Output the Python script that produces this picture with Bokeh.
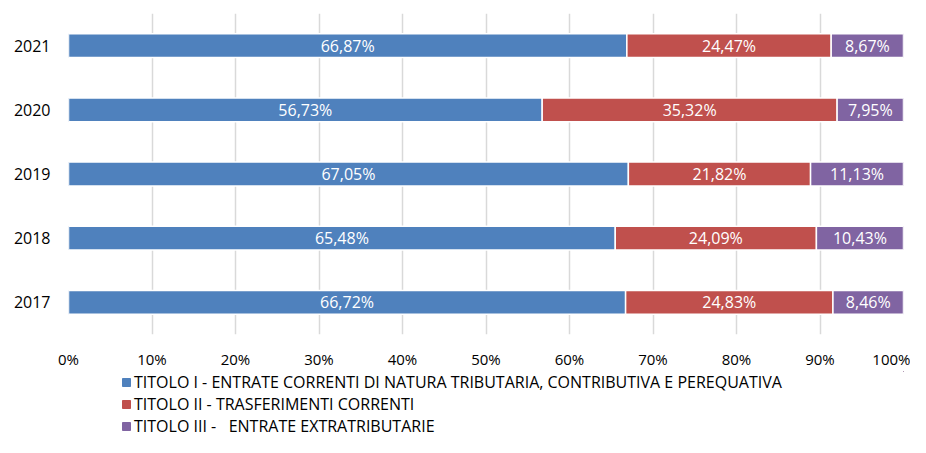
from bokeh.plotting import figure
from bokeh.layouts import column
from bokeh.models import (FactorRange, Range1d, FixedTicker, PrintfTickFormatter,
                          ColumnDataSource, Legend, LegendItem)
from bokeh.core.properties import value
from bokeh.embed import file_html
from bokeh.resources import INLINE

years = ["2017", "2018", "2019", "2020", "2021"]
titolo1 = [66.72, 65.48, 67.05, 56.73, 66.87]
titolo2 = [24.83, 24.09, 21.82, 35.32, 24.47]
titolo3 = [8.46, 10.43, 11.13, 7.95, 8.67]
series_names = [
    "TITOLO I - ENTRATE CORRENTI DI NATURA TRIBUTARIA, CONTRIBUTIVA E PEREQUATIVA",
    "TITOLO II - TRASFERIMENTI CORRENTI",
    "TITOLO III -   ENTRATE EXTRATRIBUTARIE",
]
colors = ["#4F81BD", "#C0504D", "#8064A2"]
x_ticks = [0, 10, 20, 30, 40, 50, 60, 70, 80, 90, 100]

FONT = "Open Sans"

p = figure(width=910, height=371, output_backend="svg", toolbar_location=None,
           y_range=FactorRange(*years, range_padding=0),
           x_range=Range1d(0, 100),
           min_border_left=68, min_border_right=7, min_border_top=13,
           min_border_bottom=34)
p.outline_line_color = None
p.background_fill_color = "white"

series = [titolo1, titolo2, titolo3]
left = [0.0] * len(years)
for vals, col, name in zip(series, colors, series_names):
    right = [l + v for l, v in zip(left, vals)]
    src = ColumnDataSource(dict(y=years, left=left, right=right,
                                mid=[(l + r) / 2 for l, r in zip(left, right)],
                                lab=[("%.2f%%" % v).replace(".", ",") for v in vals]))
    p.hbar(y="y", left="left", right="right", height=0.37, source=src,
           fill_color=col, line_color="white", line_width=1.5)
    p.text(x="mid", y="y", text="lab", source=src, text_color="white",
           text_font=value(FONT), text_font_size="16px",
           text_align="center", text_baseline="middle")
    left = right

p.xaxis.ticker = FixedTicker(ticks=x_ticks)
p.xaxis.formatter = PrintfTickFormatter(format="%d%%")
for ax in (p.xaxis, p.yaxis):
    ax.axis_line_color = None
    ax.major_tick_line_color = None
    ax.minor_tick_line_color = None
    ax.major_tick_out = 0
    ax.major_tick_in = 0
    ax.major_label_text_font = FONT
    ax.major_label_text_color = "#000000"
p.xaxis.major_label_text_font_size = "15px"
p.yaxis.major_label_text_font_size = "16px"
p.xaxis.major_label_standoff = 14
p.yaxis.major_label_standoff = 18

p.xgrid.grid_line_color = "#D9D9D9"
p.xgrid.grid_line_width = 1.5
p.ygrid.grid_line_color = None

# Legend panel (separate figure so the legend is not clipped by the chart frame)
pl = figure(width=910, height=66, output_backend="svg", toolbar_location=None,
            x_range=Range1d(0, 1), y_range=Range1d(0, 1),
            min_border_left=0, min_border_right=0, min_border_top=0, min_border_bottom=0)
pl.axis.visible = False
pl.grid.visible = False
pl.outline_line_color = None
items = []
for col, name in zip(colors, series_names):
    # swatch source for legend only; placed outside the visible range
    r = pl.hbar(y=[5], left=[5], right=[6], height=0.5, fill_color=col, line_color=col)
    items.append(LegendItem(label=name, renderers=[r]))
legend = Legend(items=items, location=(53, 0), orientation="vertical",
                glyph_width=10, glyph_height=10, label_standoff=3,
                label_height=22, spacing=0, padding=0, margin=0,
                label_text_font=FONT, label_text_font_size="16px",
                label_text_color="#000000",
                border_line_color=None, background_fill_alpha=0)
pl.add_layout(legend, "center")

layout = column(p, pl, spacing=0)
open("out.html", "w").write(file_html(layout, INLINE))
